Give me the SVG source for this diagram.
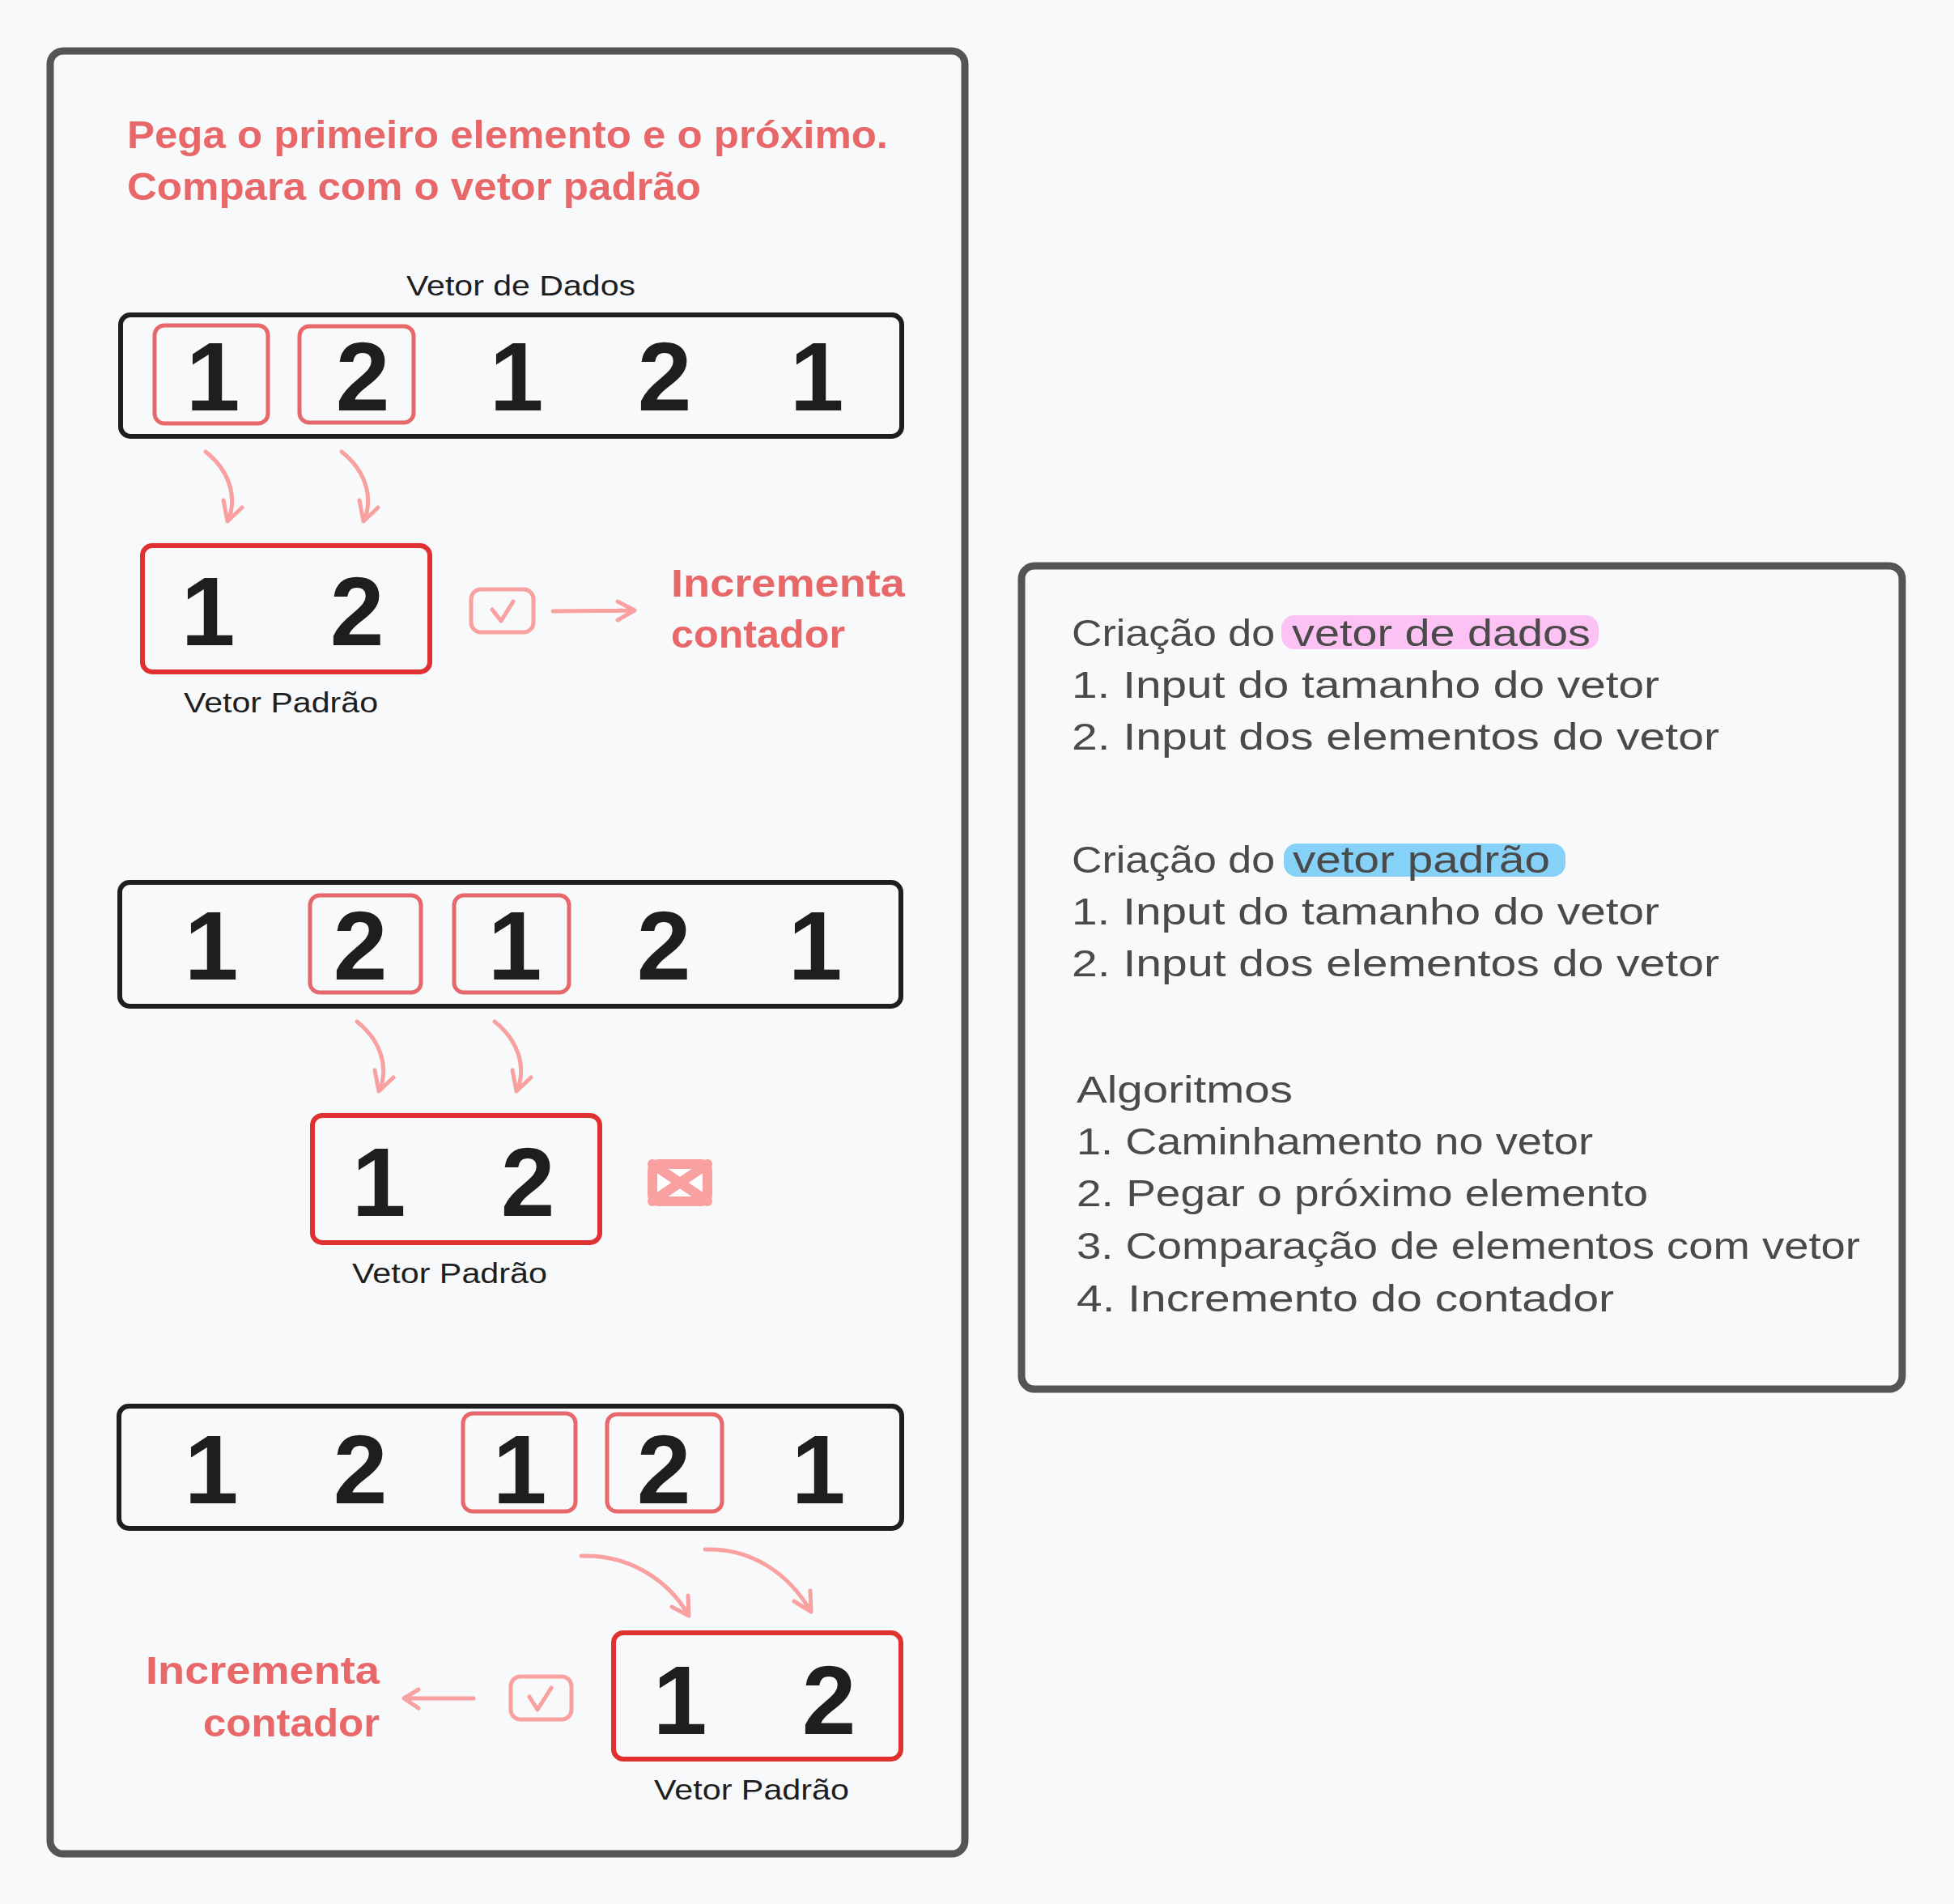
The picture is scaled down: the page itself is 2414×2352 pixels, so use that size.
<svg xmlns="http://www.w3.org/2000/svg" width="2414" height="2352" viewBox="0 0 2414 2352">
<style>
text { font-family: "Liberation Sans", Arial, sans-serif; }
.digit { font-size: 120px; font-weight: bold; fill: #1e1e1e; text-anchor: middle; }
.title { font-size: 48px; font-weight: bold; fill: #e8686a; }
.label { font-size: 35px; fill: #1e1e1e; }
.note { font-size: 47px; fill: #4a4a4a; }
.panel { fill: none; stroke: #555555; stroke-width: 9; }
.vec { fill: none; stroke: #1e1e1e; stroke-width: 6; }
.hl { fill: none; stroke: #e6686a; stroke-width: 5; }
.pat { fill: none; stroke: #e03131; stroke-width: 6; }
.pink { fill: none; stroke: #f9a0a0; stroke-width: 5; stroke-linecap: round; stroke-linejoin: round; }
</style>
<rect width="2414" height="2352" fill="#f8f9fb"/>

<g id="panel-left"><rect class="panel" x="62" y="63" width="1130" height="2227" rx="16"/></g>
<g id="panel-right"><rect class="panel" x="1262" y="699" width="1088" height="1017" rx="16"/></g>

<g id="title">
<text class="title" x="157" y="183" textLength="940" lengthAdjust="spacingAndGlyphs">Pega o primeiro elemento e o próximo.</text>
<text class="title" x="157" y="247" textLength="709" lengthAdjust="spacingAndGlyphs">Compara com o vetor padrão</text>
</g>

<g id="vector-data-1">
<text class="label" x="502" y="365" textLength="283" lengthAdjust="spacingAndGlyphs">Vetor de Dados</text>
<rect class="vec" x="149" y="389" width="965" height="150" rx="12"/>
<rect class="hl" x="191" y="402" width="140" height="121" rx="12"/>
<rect class="hl" x="370" y="403" width="141" height="119" rx="12"/>
<text class="digit" x="263" y="507">1</text>
<text class="digit" x="448" y="507">2</text>
<text class="digit" x="638" y="507">1</text>
<text class="digit" x="821" y="507">2</text>
<text class="digit" x="1009" y="507">1</text>
</g>

<g id="pattern-1">
<rect class="pat" x="176" y="674" width="355" height="156" rx="12"/>
<text class="digit" x="257" y="797">1</text>
<text class="digit" x="441" y="797">2</text>
<text class="label" x="227" y="880" textLength="240" lengthAdjust="spacingAndGlyphs">Vetor Padrão</text>
</g>

<g id="check-1">
<rect class="pink" x="582" y="728" width="77" height="53" rx="12"/>
<path class="pink" d="M608,753 L619,767 L634,743"/>
</g>

<g id="result-1">
<text class="title" x="829" y="737" textLength="289" lengthAdjust="spacingAndGlyphs">Incrementa</text>
<text class="title" x="829" y="800" textLength="215" lengthAdjust="spacingAndGlyphs">contador</text>
</g>

<g id="vector-data-2">
<rect class="vec" x="148" y="1090" width="965" height="153" rx="12"/>
<rect class="hl" x="383" y="1106" width="137" height="120" rx="12"/>
<rect class="hl" x="561" y="1106" width="142" height="120" rx="12"/>
<text class="digit" x="261" y="1210">1</text>
<text class="digit" x="445" y="1210">2</text>
<text class="digit" x="636" y="1210">1</text>
<text class="digit" x="820" y="1210">2</text>
<text class="digit" x="1007" y="1210">1</text>
</g>

<g id="pattern-2">
<rect class="pat" x="386" y="1378" width="355" height="157" rx="12"/>
<text class="digit" x="468" y="1502">1</text>
<text class="digit" x="652" y="1502">2</text>
<text class="label" x="435" y="1585" textLength="241" lengthAdjust="spacingAndGlyphs">Vetor Padrão</text>
</g>

<g id="cross-2">
<rect x="806" y="1438" width="68" height="46" rx="8" fill="#ffffff" stroke="#f9a0a0" stroke-width="12" stroke-linejoin="round"/>
<path d="M806,1438 L874,1484 M874,1438 L806,1484" stroke="#f9a0a0" stroke-width="12" stroke-linecap="round"/>
</g>

<g id="vector-data-3">
<rect class="vec" x="147" y="1737" width="967" height="151" rx="12"/>
<rect class="hl" x="572" y="1746" width="139" height="121" rx="12"/>
<rect class="hl" x="750" y="1747" width="142" height="120" rx="12"/>
<text class="digit" x="261" y="1857">1</text>
<text class="digit" x="445" y="1857">2</text>
<text class="digit" x="642" y="1857">1</text>
<text class="digit" x="820" y="1857">2</text>
<text class="digit" x="1011" y="1857">1</text>
</g>

<g id="pattern-3">
<rect class="pat" x="758" y="2017" width="355" height="156" rx="12"/>
<text class="digit" x="840" y="2142">1</text>
<text class="digit" x="1024" y="2142">2</text>
<text class="label" x="808" y="2223" textLength="241" lengthAdjust="spacingAndGlyphs">Vetor Padrão</text>
</g>

<g id="check-3">
<rect class="pink" x="631" y="2071" width="75" height="53" rx="12"/>
<path class="pink" d="M654,2096 L664,2112 L681,2085"/>
</g>

<g id="result-3">
<text class="title" x="469" y="2080" text-anchor="end" textLength="289" lengthAdjust="spacingAndGlyphs">Incrementa</text>
<text class="title" x="469" y="2145" text-anchor="end" textLength="218" lengthAdjust="spacingAndGlyphs">contador</text>
</g>

<g id="connectors">
<path class="pink" d="M254,558 C282,580 294,612 282,643 M276,618 L281,644 L299,627"/>
<path class="pink" transform="translate(168,0)" d="M254,558 C282,580 294,612 282,643 M276,618 L281,644 L299,627"/>
<path class="pink" d="M683,755 L783,754 M763,743 L784,754 L763,766"/>
<path class="pink" transform="translate(187,704)" d="M254,558 C282,580 294,612 282,643 M276,618 L281,644 L299,627"/>
<path class="pink" transform="translate(357,704)" d="M254,558 C282,580 294,612 282,643 M276,618 L281,644 L299,627"/>
<path class="pink" d="M718,1922 C775,1920 825,1950 851,1996 M830,1985 L851,1996 L850,1971"/>
<path class="pink" d="M871,1914 C930,1912 975,1945 1002,1991 M981,1978 L1002,1991 L1001,1965"/>
<path class="pink" d="M585,2098 L500,2098 M517,2087 L499,2098 L517,2110"/>
</g>

<g id="notes">
<rect x="1583" y="760" width="392" height="42" rx="16" fill="#fcc2f3"/>
<rect x="1586" y="1042" width="348" height="41" rx="16" fill="#86d1f8"/>
<text class="note" x="1324" y="798" textLength="251" lengthAdjust="spacingAndGlyphs">Criação do</text>
<text class="note" x="1596" y="798" textLength="369" lengthAdjust="spacingAndGlyphs">vetor de dados</text>
<text class="note" x="1324" y="862" textLength="726" lengthAdjust="spacingAndGlyphs">1. Input do tamanho do vetor</text>
<text class="note" x="1324" y="926" textLength="800" lengthAdjust="spacingAndGlyphs">2. Input dos elementos do vetor</text>
<text class="note" x="1324" y="1078" textLength="251" lengthAdjust="spacingAndGlyphs">Criação do</text>
<text class="note" x="1597" y="1078" textLength="318" lengthAdjust="spacingAndGlyphs">vetor padrão</text>
<text class="note" x="1324" y="1142" textLength="726" lengthAdjust="spacingAndGlyphs">1. Input do tamanho do vetor</text>
<text class="note" x="1324" y="1206" textLength="800" lengthAdjust="spacingAndGlyphs">2. Input dos elementos do vetor</text>
<text class="note" x="1330" y="1362" textLength="267" lengthAdjust="spacingAndGlyphs">Algoritmos</text>
<text class="note" x="1330" y="1426" textLength="638" lengthAdjust="spacingAndGlyphs">1. Caminhamento no vetor</text>
<text class="note" x="1330" y="1490" textLength="706" lengthAdjust="spacingAndGlyphs">2. Pegar o próximo elemento</text>
<text class="note" x="1330" y="1555" textLength="968" lengthAdjust="spacingAndGlyphs">3. Comparação de elementos com vetor</text>
<text class="note" x="1330" y="1620" textLength="664" lengthAdjust="spacingAndGlyphs">4. Incremento do contador</text>
</g>
</svg>
